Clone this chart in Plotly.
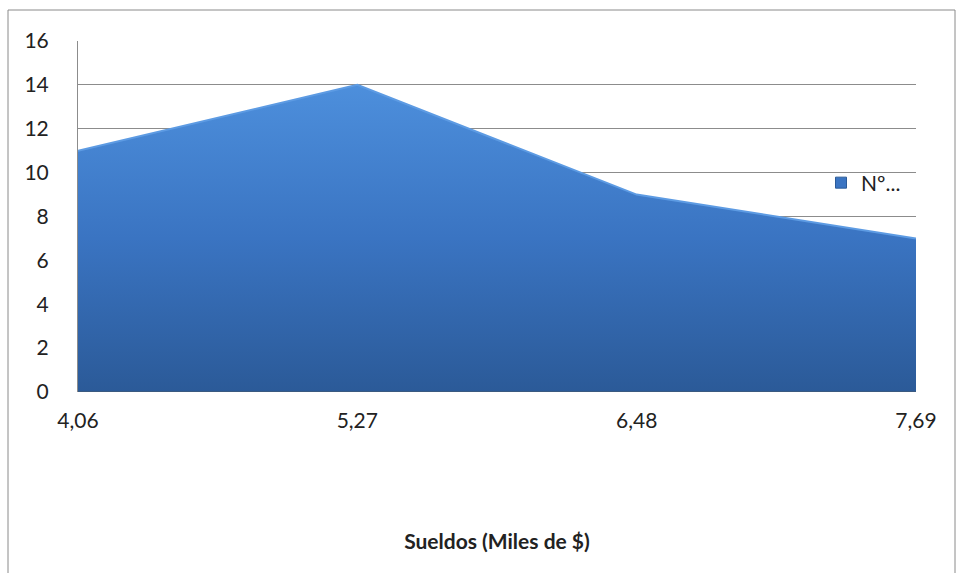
import plotly.graph_objects as go

# Salary classes (thousands of $) and number of employees per class
sueldos = ["4,06", "5,27", "6,48", "7,69"]
empleados = [11, 14, 9, 7]
y_ticks = [0, 2, 4, 6, 8, 10, 12, 14, 16]
serie = "Nº..."

W, H = 956, 573
L, R, T, B = 78, 40, 41, 181
pw, ph = W - L - R, H - T - B

fig = go.Figure()
fig.add_trace(go.Scatter(
    x=list(range(len(sueldos))),
    y=empleados,
    mode="lines",
    name=serie,
    showlegend=False,
    fill="tozeroy",
    fillgradient=dict(type="vertical",
                      colorscale=[[0, "#2b5a98"], [0.5, "#3a74c2"], [1, "#4d8fdc"]]),
    line=dict(color="#5d9be3", width=2),
    hoverinfo="skip",
))

# square legend key for the series
fig.add_trace(go.Scatter(
    x=[None], y=[None], mode="markers", name=serie,
    marker=dict(symbol="square", size=11, color="#3a74c2",
                line=dict(color="#2b5a98", width=1)),
))

# dark baseline under the area
fig.add_shape(type="line", xref="x", yref="y", x0=0, x1=len(sueldos) - 1,
              y0=0, y1=0, line=dict(color="#3b5a80", width=2), layer="above")

# outer chart border
fig.add_shape(type="rect", xref="paper", yref="paper",
              x0=(8 - L) / pw, x1=(955 - L) / pw,
              y0=(H - B - 575) / ph, y1=(H - B - 10) / ph,
              line=dict(color="#8a8a8a", width=1), fillcolor="rgba(0,0,0,0)",
              layer="below")

fig.update_layout(
    width=W, height=H,
    margin=dict(l=L, r=R, t=T, b=B),
    paper_bgcolor="white", plot_bgcolor="white",
    font=dict(family="Lato, Open Sans, sans-serif", color="#222222", size=21),
    showlegend=True,
    legend=dict(x=(821 - L) / pw, y=(H - B - 183) / ph, xanchor="left", yanchor="middle",
                bgcolor="rgba(0,0,0,0)", font=dict(size=21),
                itemwidth=30, tracegroupgap=0),
    xaxis=dict(
        tickmode="array",
        tickvals=list(range(len(sueldos))),
        ticktext=sueldos,
        range=[0, len(sueldos) - 1],
        showgrid=False, zeroline=False, showline=False,
        ticks="", ticklabelstandoff=14,
        tickfont=dict(size=21),
        title=dict(text="<b>Sueldos (Miles de $)</b>", font=dict(size=21), standoff=103),
    ),
    yaxis=dict(
        range=[0, 16],
        tickvals=y_ticks,
        showgrid=True, gridcolor="#8c8c8c", gridwidth=1,
        zeroline=False,
        showline=True, linecolor="#8c8c8c", linewidth=1,
        ticks="", ticklabelstandoff=24,
        tickfont=dict(size=21),
    ),
)

fig.write_html("out.html")
